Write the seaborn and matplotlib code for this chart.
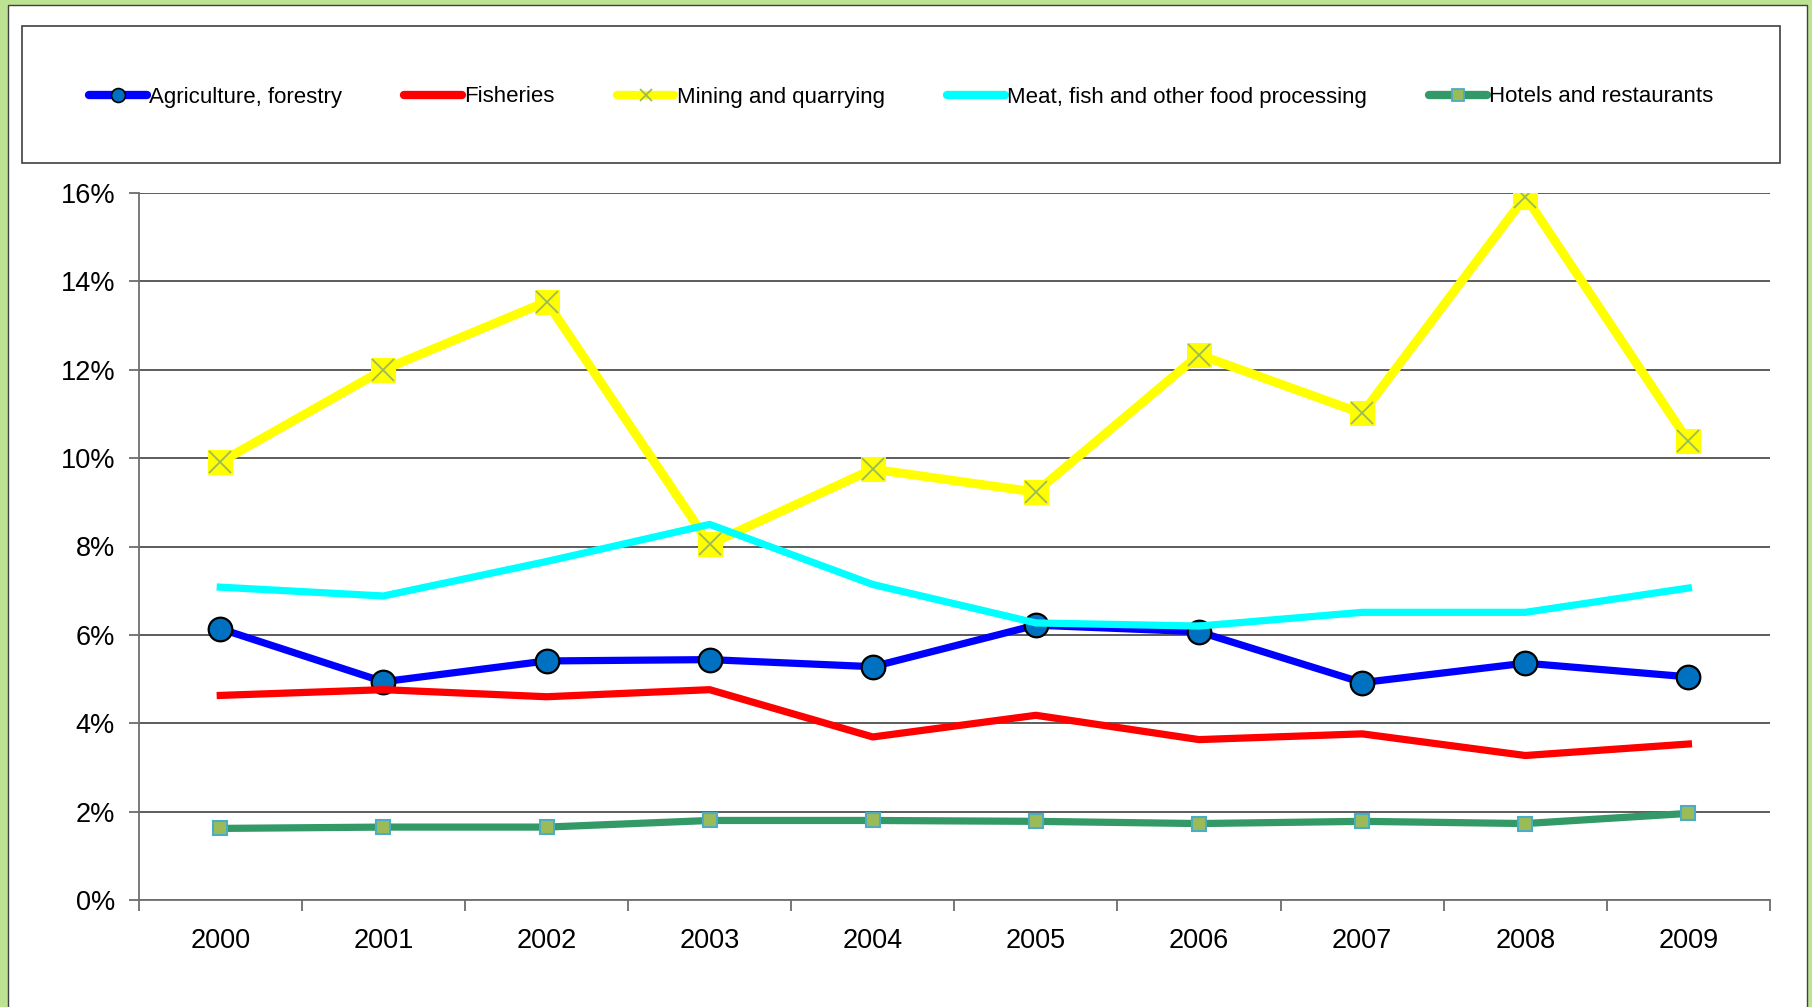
import numpy as np
import pandas as pd
import matplotlib
matplotlib.use("Agg")
import matplotlib.pyplot as plt
import seaborn as sns
from matplotlib.lines import Line2D
from matplotlib.patches import Rectangle
from matplotlib.ticker import FuncFormatter, FixedLocator

## Data
years = ["2000", "2001", "2002", "2003", "2004", "2005", "2006", "2007", "2008", "2009"]
agriculture = [6.14, 4.94, 5.41, 5.44, 5.28, 6.22, 6.07, 4.92, 5.36, 5.05]
fisheries = [4.63, 4.76, 4.60, 4.76, 3.69, 4.18, 3.63, 3.76, 3.27, 3.53]
mining = [9.91, 12.00, 13.54, 8.05, 9.75, 9.23, 12.34, 11.01, 15.92, 10.38]
meat_fish = [7.08, 6.88, 7.66, 8.50, 7.14, 6.27, 6.20, 6.51, 6.51, 7.06]
hotels = [1.62, 1.65, 1.65, 1.80, 1.80, 1.78, 1.73, 1.78, 1.73, 1.96]
y_ticks = [0, 2, 4, 6, 8, 10, 12, 14, 16]

labels = ["Agriculture, forestry", "Fisheries", "Mining and quarrying",
          "Meat, fish and other food processing", "Hotels and restaurants"]

df = pd.DataFrame({"pos": np.arange(len(years)), "year": years,
                   labels[0]: agriculture, labels[1]: fisheries, labels[2]: mining,
                   labels[3]: meat_fish, labels[4]: hotels})

plt.rcParams["font.family"] = ["Liberation Sans", "DejaVu Sans"]

fig = plt.figure(figsize=(18.12, 10.07), dpi=100, facecolor="#BCE292")
# white panel inside green border
fig.patches.append(Rectangle((8 / 1812, -0.01), (1807 - 8) / 1812, 1 - 5 / 1007 + 0.01,
                             transform=fig.transFigure, facecolor="white",
                             edgecolor="#404040", lw=1, zorder=0))
# legend box
fig.patches.append(Rectangle((22 / 1812, 1 - 163 / 1007), (1780 - 22) / 1812, (163 - 26) / 1007,
                             transform=fig.transFigure, facecolor="white",
                             edgecolor="#404040", lw=1.2, zorder=0.5))

ax = fig.add_axes([138.7 / 1812, 1 - 900 / 1007, (1770 - 138.7) / 1812, (900 - 193) / 1007])
ax.set_zorder(2)
ax.set_facecolor("white")

yellow_x = "#9BBB59"

sns.lineplot(data=df, x="pos", y=labels[0], ax=ax, color="#0000FF", lw=5.2,
             marker="o", markersize=17, markerfacecolor="#0070C0",
             markeredgecolor="black", markeredgewidth=1.6, zorder=3)
sns.lineplot(data=df, x="pos", y=labels[1], ax=ax, color="#FF0000", lw=5.2, zorder=3)
sns.lineplot(data=df, x="pos", y=labels[2], ax=ax, color="#FFFF00", lw=6.5,
             marker="s", markersize=17, markerfacecolor="#FFFF00",
             markeredgecolor="#FFFF00", zorder=3)
ax.plot(df["pos"], df[labels[2]], ls="none", marker="x", markersize=16,
        markeredgecolor=yellow_x, markeredgewidth=1.3, zorder=3)
sns.lineplot(data=df, x="pos", y=labels[3], ax=ax, color="#00FFFF", lw=5.2, zorder=3)
sns.lineplot(data=df, x="pos", y=labels[4], ax=ax, color="#339966", lw=5.2,
             marker="s", markersize=9.5, markerfacecolor="#9BBB59",
             markeredgecolor="#4BACC6", markeredgewidth=1.5, zorder=3)

ax.set_xlim(-0.5, len(years) - 0.5)
ax.set_ylim(0, 16)
ax.set_xlabel("")
ax.set_ylabel("")

ax.yaxis.set_major_locator(FixedLocator(y_ticks))
ax.yaxis.set_major_formatter(FuncFormatter(lambda v, p: f"{v:.0f}%"))
ax.grid(axis="y", color="#303030", lw=1.1, zorder=1)
ax.set_axisbelow(True)

ax.set_xticks(np.arange(-0.5, len(years), 1.0))
ax.set_xticklabels([])
ax.set_xticks(np.arange(len(years)), minor=True)
ax.set_xticklabels(years, minor=True)
ax.tick_params(axis="x", which="major", length=8, width=1.2, color="#606060", direction="out")
ax.tick_params(axis="x", which="minor", length=0, pad=20, labelsize=19.5)
ax.tick_params(axis="y", length=7, width=1.2, color="#606060", pad=10, labelsize=19.5)

for s in ["top", "right"]:
    ax.spines[s].set_visible(False)
for s in ["left", "bottom"]:
    ax.spines[s].set_color("#707070")
    ax.spines[s].set_linewidth(1.3)

# legend
handles = [
    Line2D([], [], color="#0000FF", lw=6, solid_capstyle="round", marker="o", markersize=10,
           markerfacecolor="#0070C0", markeredgecolor="black", markeredgewidth=1.2),
    Line2D([], [], color="#FF0000", lw=6, solid_capstyle="round"),
    Line2D([], [], color="#FFFF00", lw=6, solid_capstyle="round", marker="x", markersize=8,
           markeredgecolor=yellow_x, markeredgewidth=1.3),
    Line2D([], [], color="#00FFFF", lw=6, solid_capstyle="round"),
    Line2D([], [], color="#339966", lw=6, solid_capstyle="round", marker="s", markersize=8,
           markerfacecolor="#9BBB59", markeredgecolor="#4BACC6", markeredgewidth=1.3),
]
leg = fig.legend(handles, labels, loc="center", bbox_to_anchor=(901 / 1812, 1 - 97 / 1007),
                 ncol=5, frameon=False, fontsize=16, handlelength=2.6, handletextpad=0.1,
                 columnspacing=2.8)
leg.set_zorder(3)

fig.savefig("out.png", dpi=100, facecolor=fig.get_facecolor())
